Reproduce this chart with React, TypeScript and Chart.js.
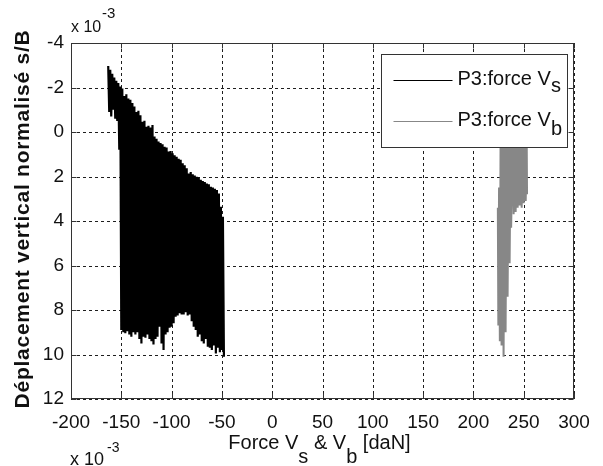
import React, { useEffect, useRef } from "react";
import { Chart, registerables } from "chart.js";

Chart.register(...registerables);

// ---- data (y values in units of 10^-3) ----
const xTickValues = [-200, -150, -100, -50, 0, 50, 100, 150, 200, 250, 300];
const yTickValues = [-4, -2, 0, 2, 4, 6, 8, 10, 12];

// P3: force Vs (dense oscillation, successive peaks/troughs)
const blackX = [
  -163, -162, -161, -160, -159, -158, -157, -156, -155, -154, -153, -152, -151, -150, -149, -148,
  -147, -146, -145, -144, -143, -142, -141, -140, -139, -138, -137, -136, -135, -134, -133, -132,
  -131, -130, -129, -128, -127, -126, -125, -124, -123, -122, -121, -120, -119, -118, -117, -116,
  -115, -114, -113, -112, -111, -110, -109, -108, -107, -106, -105, -104, -103, -102, -101, -100,
  -99, -98, -97, -96, -95, -94, -93, -92, -91, -90, -89, -88, -87, -86, -85, -84,
  -83, -82, -81, -80, -79, -78, -77, -76, -75, -74, -73, -72, -71, -70, -69, -68,
  -67, -66, -65, -64, -63, -62, -61, -60, -59, -58, -57, -56, -55, -54, -53, -52,
  -51, -50, -49, -48,
];
const blackY = [
  -2.97, -0.9, -2.8, -0.7, -2.62, -1.0, -2.45, -0.6, -2.3, -0.5, -2.2, 0.8, -2.05, 8.9, -1.95, 9.0,
  -1.62, 9.05, -1.7, 8.95, -1.5, 9.1, -1.45, 9.2, -1.3, 9.0, -1.15, 9.1, -0.9, 9.0, -0.95, 9.3,
  -0.75, 9.5, -0.46, 9.2, -0.5, 9.25, -0.24, 9.1, -0.28, 9.3, -0.2, 9.4, -0.31, 9.55, 0.2, 9.3,
  0.3, 9.2, 0.43, 8.75, 0.5, 9.5, 0.55, 9.8, 0.66, 9.1, 0.7, 9.0, 0.88, 8.8, 0.85, 8.75,
  0.95, 8.6, 1.05, 8.3, 1.11, 8.25, 1.2, 8.15, 1.25, 8.2, 1.41, 8.2, 1.5, 8.1, 1.63, 8.25,
  1.86, 8.2, 1.8, 8.5, 1.9, 8.75, 1.95, 8.9, 2.01, 9.2, 2.05, 9.1, 2.15, 9.4, 2.2, 9.5,
  2.25, 9.3, 2.31, 9.65, 2.35, 9.7, 2.46, 9.8, 2.5, 9.6, 2.55, 9.95, 2.61, 9.7, 2.76, 9.9,
  3.36, 9.8, 3.81, 10.1,
];

// P3: force Vb
const grayX = [
  224.3, 224.8, 225.5, 226.3, 227, 228, 229, 230, 231, 232, 233, 234, 235, 236, 237, 237.5,
  239, 240, 241, 242, 243, 244, 245, 246, 247, 248, 249, 250, 251, 252, 253, 253.3,
];
const grayY = [
  3.4, 8.7, 2.5, 9.4, 0.4, 9.6, 0.4, 10.1, 0.4, 9.0, 0.4, 7.4, 0.4, 5.9, 0.4, 4.3,
  0.4, 3.7, 0.4, 3.6, 0.4, 3.4, 0.4, 3.3, 0.4, 3.4, 0.4, 3.2, 0.4, 3.1, 0.5, 2.8,
];

const seriesNames = ["P3:force V", "P3:force V"];
const seriesSubs = ["s", "b"];
const seriesColors = ["#000000", "#878787"];

const yTitle = "Déplacement vertical normalisé s/B";
const exponentBase = "x 10";
const exponentSup = "-3";

const FONT = "'Liberation Sans', Arial, Helvetica, sans-serif";
const TEXT = "#111111";

type Part = [string, number];

function partsWidth(ctx: CanvasRenderingContext2D, parts: Part[]) {
  return parts.reduce((w, p) => w + ctx.measureText(p[0]).width, 0);
}
function drawParts(ctx: CanvasRenderingContext2D, parts: Part[], x: number, y: number) {
  let cx = x;
  for (const [t, dy] of parts) {
    ctx.fillText(t, cx, y + dy);
    cx += ctx.measureText(t).width;
  }
}

const decorPlugin = {
  id: "decor",
  beforeDatasetsDraw(chart: any) {
    const { ctx, chartArea: a, scales } = chart;
    const xs = scales.x, ys = scales.y;
    ctx.save();
    ctx.strokeStyle = "#1e1e1e";
    ctx.lineWidth = 1;
    ctx.setLineDash([3, 3]);
    for (const v of xTickValues) {
      const px = Math.round(xs.getPixelForValue(v)) + 0.5;
      ctx.beginPath();
      ctx.moveTo(px, a.top);
      ctx.lineTo(px, a.bottom);
      ctx.stroke();
    }
    for (const v of yTickValues) {
      const py = Math.round(ys.getPixelForValue(v)) + 0.5;
      ctx.beginPath();
      ctx.moveTo(a.left, py);
      ctx.lineTo(a.right, py);
      ctx.stroke();
    }
    ctx.restore();
  },
  afterDatasetsDraw(chart: any) {
    const { ctx, chartArea: a, scales } = chart;
    const xs = scales.x, ys = scales.y;
    const L = Math.round(a.left) + 0.5;
    const R = Math.round(a.right) - 0.5;
    const T = Math.round(a.top) + 0.5;
    const B = Math.round(a.bottom) - 0.5;
    ctx.save();
    ctx.setLineDash([]);
    ctx.strokeStyle = "#333333";
    ctx.lineWidth = 1;
    ctx.strokeRect(L, T, R - L, B - T);
    const tl = 5;
    ctx.beginPath();
    for (const v of xTickValues) {
      const px = Math.round(xs.getPixelForValue(v)) + 0.5;
      ctx.moveTo(px, B);
      ctx.lineTo(px, B - tl);
      ctx.moveTo(px, T);
      ctx.lineTo(px, T + tl);
    }
    for (const v of yTickValues) {
      const py = Math.round(ys.getPixelForValue(v)) + 0.5;
      ctx.moveTo(L, py);
      ctx.lineTo(L + tl, py);
      ctx.moveTo(R, py);
      ctx.lineTo(R - tl, py);
    }
    ctx.stroke();

    // legend box
    const bw = 186, bh = 93;
    const bx = Math.round(a.right - 7 - bw) + 0.5;
    const by = Math.round(a.top + 11) + 0.5;
    ctx.fillStyle = "#ffffff";
    ctx.fillRect(bx, by, bw, bh);
    ctx.strokeStyle = "#333333";
    ctx.strokeRect(bx, by, bw, bh);
    const rowY = [by + 26, by + 67];
    const subDy = [7.3, 9.3];
    ctx.font = `20px ${FONT}`;
    ctx.textBaseline = "alphabetic";
    ctx.textAlign = "left";
    for (let i = 0; i < seriesNames.length; i++) {
      ctx.strokeStyle = seriesColors[i];
      ctx.lineWidth = 1.2;
      ctx.beginPath();
      ctx.moveTo(bx + 12, rowY[i]);
      ctx.lineTo(bx + 71, rowY[i]);
      ctx.stroke();
      ctx.fillStyle = TEXT;
      drawParts(ctx, [[seriesNames[i], 0], [seriesSubs[i], subDy[i]]], bx + 76, rowY[i] + 4.5);
    }
    ctx.restore();
  },
  afterDraw(chart: any) {
    const { ctx, chartArea: a } = chart;
    ctx.save();
    ctx.fillStyle = TEXT;
    ctx.textAlign = "left";
    ctx.textBaseline = "alphabetic";

    // top exponent
    ctx.font = `16px ${FONT}`;
    ctx.fillText(exponentBase, a.left, 31.5);
    ctx.font = `15px ${FONT}`;
    ctx.fillText(exponentSup, a.left + 31, 18);

    // bottom exponent
    ctx.font = `18px ${FONT}`;
    ctx.fillText(exponentBase, 70, 465);
    ctx.font = `14px ${FONT}`;
    ctx.fillText(exponentSup, 107, 452);

    // x title
    ctx.font = `20px ${FONT}`;
    const xParts: Part[] = [["Force V", 0], ["s", 14], [" & V", 0], ["b", 14], [" [daN]", 0]];
    const w = partsWidth(ctx, xParts);
    const cx = (a.left + a.right) / 2 - 3;
    drawParts(ctx, xParts, cx - w / 2, 448.5);

    // y title (rotated)
    ctx.font = `bold 21px ${FONT}`;
    const target = 378;
    const natural = ctx.measureText(yTitle).width;
    const ls = (target - natural) / (yTitle.length - 1);
    try {
      (ctx as any).letterSpacing = `${ls.toFixed(2)}px`;
    } catch (e) {}
    ctx.translate(28.5, 219);
    ctx.rotate(-Math.PI / 2);
    ctx.textAlign = "center";
    ctx.fillText(yTitle, 0, 0);
    ctx.restore();
  },
};

export default function App() {
  const ref = useRef<HTMLCanvasElement | null>(null);
  useEffect(() => {
    if (!ref.current) return;
    const blackData = blackX.map((x, i) => ({ x, y: blackY[i] }));
    const grayData = grayX.map((x, i) => ({ x, y: grayY[i] }));
    const tickFont = { family: FONT, size: 19 };
    const chart = new Chart(ref.current, {
      type: "scatter",
      data: {
        datasets: [
          {
            label: seriesNames[0] + seriesSubs[0],
            data: blackData,
            showLine: true,
            borderColor: seriesColors[0],
            backgroundColor: seriesColors[0],
            borderWidth: 2.2,
            pointRadius: 0,
            pointHoverRadius: 0,
          },
          {
            label: seriesNames[1] + seriesSubs[1],
            data: grayData,
            showLine: true,
            borderColor: seriesColors[1],
            backgroundColor: seriesColors[1],
            borderWidth: 2,
            pointRadius: 0,
            pointHoverRadius: 0,
          },
        ],
      } as any,
      options: {
        animation: false,
        responsive: false,
        events: [],
        layout: { padding: { left: 0, right: 29, top: 43, bottom: 0 } },
        plugins: { legend: { display: false }, tooltip: { enabled: false }, title: { display: false } },
        scales: {
          x: {
            type: "linear",
            min: -200,
            max: 300,
            afterBuildTicks: (s: any) => {
              s.ticks = xTickValues.map((v) => ({ value: v }));
            },
            afterFit: (s: any) => {
              s.height = 67;
            },
            grid: { display: false, drawTicks: false },
            border: { display: false },
            ticks: {
              padding: 12,
              font: tickFont,
              color: TEXT,
              maxRotation: 0,
              minRotation: 0,
              autoSkip: false,
              callback: (v: any) => String(v),
            },
          },
          y: {
            type: "linear",
            reverse: true,
            min: -4,
            max: 12,
            afterBuildTicks: (s: any) => {
              s.ticks = yTickValues.map((v) => ({ value: v }));
            },
            afterFit: (s: any) => {
              s.width = 71;
            },
            grid: { display: false, drawTicks: false },
            border: { display: false },
            ticks: {
              padding: 7,
              font: tickFont,
              color: TEXT,
              autoSkip: false,
              callback: (v: any) => String(v),
            },
          },
        },
      } as any,
      plugins: [decorPlugin as any],
    });
    return () => chart.destroy();
  }, []);
  return (
    <div style={{ position: "absolute", left: 0, top: 0, width: 603, height: 466, background: "#ffffff" }}>
      <canvas ref={ref} width={603} height={466} style={{ display: "block", width: 603, height: 466 }} />
    </div>
  );
}
